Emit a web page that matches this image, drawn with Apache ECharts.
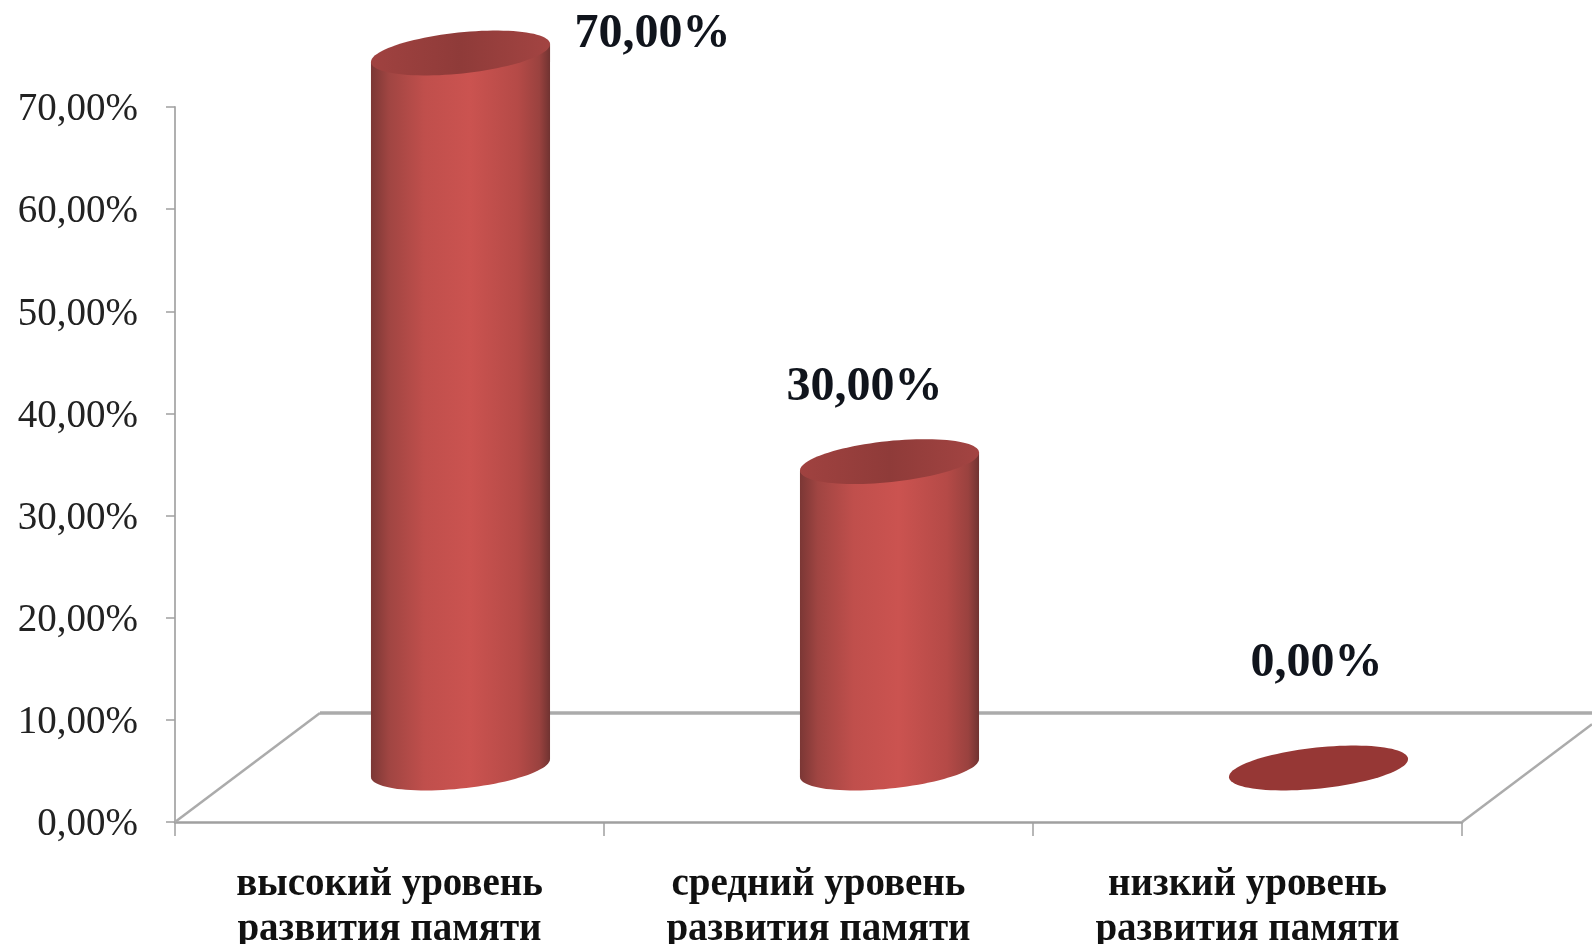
<!DOCTYPE html>
<html>
<head>
<meta charset="utf-8">
<style>html,body{margin:0;padding:0;background:#fff}#c{width:1592px;height:944px}</style>
<script src="https://cdn.jsdelivr.net/npm/echarts@6/dist/echarts.min.js"></script>
</head>
<body>
<div id="c"></div>
<script>
const categories = ['высокий уровень\nразвития памяти', 'средний уровень\nразвития памяти', 'низкий уровень\nразвития памяти'];
const values = [70, 30, 0];
const yTicks = { min: 0, max: 70, interval: 10 };

const FONT = '"Liberation Serif", "Times New Roman", serif';
const fmt = v => v.toFixed(2).replace('.', ',') + '%';
const DEPTH_X = 145, DEPTH_Y = 109;
const SHIFT_X = 71, SHIFT_Y = 54;
const RX = 90, RY = 20.5, TILT = 6 * Math.PI / 180;
const LABEL_OFFSET = [[192, -18], [-25, -74], [-2, -104]];

function ellipsePoint(cx, cy, t) {
  const c = Math.cos(TILT), s = Math.sin(TILT);
  return [cx + RX * Math.cos(t) * c + RY * Math.sin(t) * s,
          cy - RX * Math.cos(t) * s + RY * Math.sin(t) * c];
}
function ellipsePts(cx, cy, from, to, n) {
  const out = [];
  for (let i = 0; i <= n; i++) out.push(ellipsePoint(cx, cy, from + (to - from) * i / n));
  return out;
}
const T0 = Math.atan2(RY * Math.sin(TILT), RX * Math.cos(TILT));

function renderFloor(params, api) {
  if (params.dataIndex !== 0) return;
  const g = params.coordSys;
  const x0 = g.x, y0 = g.y + g.height, x1 = g.x + g.width;
  const pageRight = api.getWidth();
  const style = { stroke: '#ababab', lineWidth: 2.5, fill: null };
  const k = (pageRight - x1) / DEPTH_X;
  const line = (a, b, c, d, w) => ({ type: 'line', shape: { x1: a, y1: b, x2: c, y2: d },
    style: Object.assign({}, style, w ? { lineWidth: w } : {}) });
  return { type: 'group', silent: true, children: [
    line(x0, y0, x0 + DEPTH_X, y0 - DEPTH_Y),
    line(x0 + DEPTH_X, y0 - DEPTH_Y, pageRight, y0 - DEPTH_Y, 3.5),
    line(x1, y0, pageRight, y0 - DEPTH_Y * k)
  ]};
}

function renderCylinder(params, api) {
  const idx = api.value(0), val = api.value(1);
  const top = api.coord([idx, val]), base = api.coord([idx, 0]);
  const cx = top[0] + SHIFT_X, ty = top[1] - SHIFT_Y, by = base[1] - SHIFT_Y;
  const children = [];
  if (val > 0) {
    const l = ellipsePoint(cx, ty, T0 + Math.PI), r = ellipsePoint(cx, ty, T0);
    const pts = ellipsePts(cx, by, T0, T0 + Math.PI, 48).concat([l, r]);
    children.push({ type: 'polygon', shape: { points: pts }, style: {
      fill: new echarts.graphic.LinearGradient(0, 0, 1, 0, [
        { offset: 0, color: '#7b3735' }, { offset: 0.1, color: '#a04542' },
        { offset: 0.3, color: '#c04f4c' }, { offset: 0.55, color: '#cb5350' },
        { offset: 0.82, color: '#b54a47' }, { offset: 0.94, color: '#9a423f' },
        { offset: 1, color: '#703331' }
      ])
    }});
  }
  children.push({ type: 'polygon',
    shape: { points: ellipsePts(cx, ty, 0, Math.PI * 2, 96) },
    style: { fill: val > 0
      ? new echarts.graphic.LinearGradient(0, 0, 1, 0, [
          { offset: 0, color: '#a04240' }, { offset: 0.5, color: '#8f3b39' }, { offset: 1, color: '#a34442' }])
      : '#963735' } });
  const off = LABEL_OFFSET[idx];
  children.push({ type: 'text', style: {
    x: cx + off[0], y: ty + off[1], text: fmt(val),
    font: 'bold 48px ' + FONT, fill: '#10141c', align: 'center', verticalAlign: 'middle'
  }});
  return { type: 'group', children };
}

const chart = echarts.init(document.getElementById('c'), null, { renderer: 'canvas' });
chart.setOption({
  animation: false,
  backgroundColor: '#ffffff',
  grid: { left: 175, right: 130, top: 107, bottom: 122, outerBoundsMode: 'none' },
  xAxis: {
    type: 'category', data: categories,
    axisLine: { lineStyle: { color: '#a0a0a0', width: 2.5 } },
    axisTick: { show: true, length: 14, alignWithLabel: false, lineStyle: { color: '#a0a0a0', width: 1.5 } },
    axisLabel: { interval: 0, margin: 40, fontFamily: FONT, fontWeight: 'bold', fontSize: 39, lineHeight: 45, color: '#111' }
  },
  yAxis: {
    type: 'value', min: yTicks.min, max: yTicks.max, interval: yTicks.interval,
    splitLine: { show: false },
    axisLine: { show: true, lineStyle: { color: '#b0b0b0', width: 2 } },
    axisTick: { show: true, length: 9, lineStyle: { color: '#a0a0a0', width: 1.5 } },
    axisLabel: { margin: 37, formatter: v => '{v|' + fmt(v) + '}',
      rich: { v: { fontFamily: FONT, fontSize: 39, color: '#222', padding: [6, 0, 0, 0] } } }
  },
  series: [
    { type: 'custom', silent: true, z: 1, renderItem: renderFloor,
      data: values.map((v, i) => [i, v]), encode: { x: 0, y: 1 } },
    { type: 'custom', silent: true, z: 3, renderItem: renderCylinder,
      data: values.map((v, i) => [i, v]), encode: { x: 0, y: 1 } }
  ]
});
</script>
</body>
</html>
